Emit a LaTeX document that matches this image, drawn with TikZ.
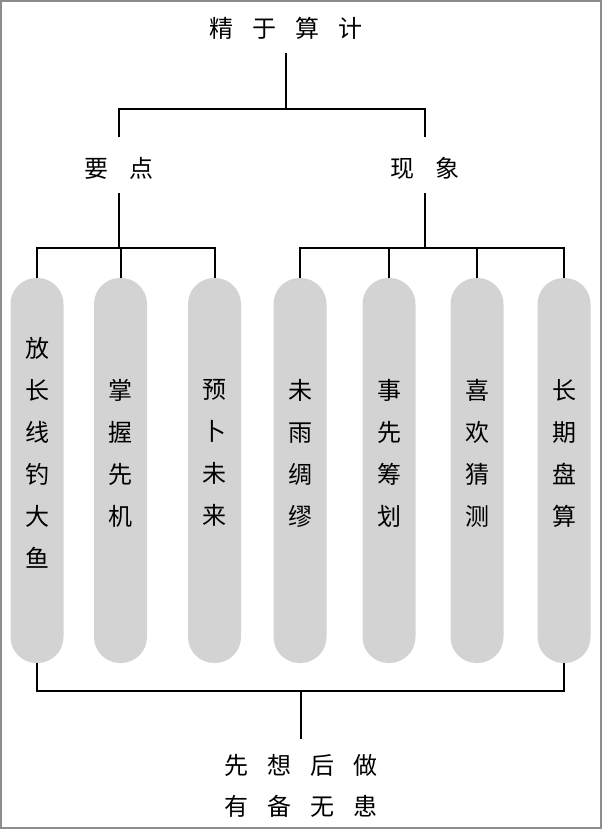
\documentclass[tikz,border=0pt]{standalone}
\usepackage{fontspec}
\newfontfamily\cjk{Noto Sans CJK SC}
\definecolor{pillgray}{RGB}{211,211,211}
\definecolor{framegray}{RGB}{140,140,140}
\def\gp{\hspace{19pt}}
\begin{document}
\begin{tikzpicture}[x=1pt,y=-1pt,
  lab/.style={inner xsep=0pt, inner ysep=12pt, text height=21pt, text depth=3pt, font=\cjk\fontsize{24}{24}\selectfont},
  pill/.style={fill=pillgray, minimum width=53pt, minimum height=385pt, rounded corners=26pt, inner sep=0pt},
  vtext/.style={align=center, inner sep=0pt, font=\cjk\fontsize{24}{42}\selectfont},
  conn/.style={line width=2pt, black}]
\useasboundingbox (0,0) rectangle (602,829);
\fill[white] (0,0) rectangle (602,829);
\draw[framegray, line width=2pt] (1,1) rectangle (601,828);

\node[lab] (title) at (286,29) {精\gp 于\gp 算\gp 计};
\node[lab] (yd) at (119,169) {要\hspace{21pt}点};
\node[lab] (xx) at (425,169) {现\hspace{21pt}象};

\node[pill] (p1) at (37,470.5) {};
\node[pill] (p2) at (120.5,470.5) {};
\node[pill] (p3) at (214.5,470.5) {};
\node[pill] (p4) at (300,470.5) {};
\node[pill] (p5) at (389,470.5) {};
\node[pill] (p6) at (477,470.5) {};
\node[pill] (p7) at (564,470.5) {};

\node[vtext] (t1) at (37,453) {放\\长\\线\\钓\\大\\鱼};
\node[vtext] (t2) at (120.5,453) {掌\\握\\先\\机};
\node[vtext] (t3) at (214.5,453) {预\\卜\\未\\来};
\node[vtext] (t4) at (300,453) {未\\雨\\绸\\缪};
\node[vtext] (t5) at (389,453) {事\\先\\筹\\划};
\node[vtext] (t6) at (477,453) {喜\\欢\\猜\\测};
\node[vtext] (t7) at (564,453) {长\\期\\盘\\算};

\node[lab] (b1) at (301,765) {先\gp 想\gp 后\gp 做};
\node[lab] (b2) at (301,806) {有\gp 备\gp 无\gp 患};

\coordinate (j0) at (286,109);
\coordinate (j1) at (119,248);
\coordinate (j2) at (425,248);
\coordinate (j3) at (301,691);

\draw[conn] (title.south) -- (j0);
\draw[conn] ([yshift=8pt]yd.north) -- (yd.north |- j0) -- (xx.north |- j0) -- ([yshift=8pt]xx.north);

\draw[conn] (yd.south) -- (j1);
\draw[conn] (p1.north) -- (p1.north |- j1) -- (p3.north |- j1) -- (p3.north);
\draw[conn] (p2.north) -- (p2.north |- j1);

\draw[conn] (xx.south) -- (j2);
\draw[conn] (p4.north) -- (p4.north |- j2) -- (p7.north |- j2) -- (p7.north);
\draw[conn] (p5.north) -- (p5.north |- j2);
\draw[conn] (p6.north) -- (p6.north |- j2);

\draw[conn] (p1.south) -- (p1.south |- j3) -- (p7.south |- j3) -- (p7.south);
\draw[conn] (j3) -- ([yshift=2pt]b1.north);
\end{tikzpicture}
\end{document}
